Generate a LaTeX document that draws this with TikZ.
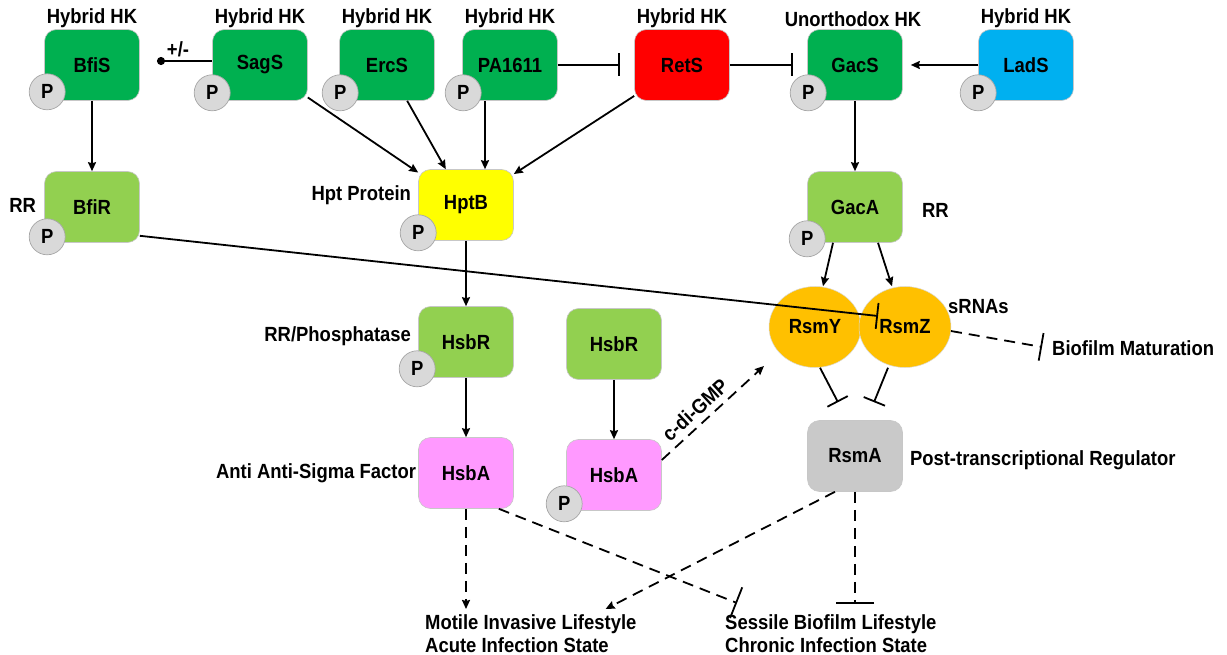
\documentclass[tikz,border=0pt]{standalone}
\usepackage{fontspec}
\setmainfont{Liberation Sans}[FakeStretch=0.9]
\usetikzlibrary{arrows.meta,calc,shapes.geometric}
\definecolor{hkgreen}{HTML}{00B050}
\definecolor{rrgreen}{HTML}{92D050}
\definecolor{hkred}{HTML}{FF0000}
\definecolor{hkblue}{HTML}{00B0F0}
\definecolor{hptyellow}{HTML}{FFFF00}
\definecolor{hsbpink}{HTML}{FF99FF}
\definecolor{rsmgray}{HTML}{C9C9C9}
\definecolor{srnaorange}{HTML}{FFC000}
\definecolor{pgray}{HTML}{D9D9D9}

\begin{document}
\begin{tikzpicture}[x=1pt,y=-1pt,
  every node/.style={font=\fontsize{20.5}{23}\selectfont\bfseries, inner sep=0pt},
  protein/.style={rectangle, rounded corners=12pt, minimum width=95pt, minimum height=71pt, draw=black!22, line width=0.6pt},
  srna/.style={ellipse, minimum width=92pt, minimum height=81pt, fill=srnaorange, draw=black!15, line width=0.5pt},
  phos/.style={circle, minimum size=36pt, fill=pgray, draw=black!35, line width=0.7pt},
  conn/.style={line width=1.8pt},
  arr/.style={conn, -{Stealth[length=9pt,width=8pt,inset=1pt]}},
  inh/.style={conn, -{Bar[width=#1]}},
  inh/.default=23pt,
  dsh/.style={dash pattern=on 11pt off 7pt},
]
\useasboundingbox (0,0) rectangle (1227,655);

% sensor kinases
\node[protein, fill=hkgreen] (BfiS)   at (92,65)   {BfiS};
\node[protein, fill=hkgreen] (SagS)   at (260,65)  {SagS};
\node[protein, fill=hkgreen] (ErcS)   at (387,65)  {ErcS};
\node[protein, fill=hkgreen] (PA1611) at (510,65)  {PA1611};
\node[protein, fill=hkred]   (RetS)   at (682,65)  {RetS};
\node[protein, fill=hkgreen] (GacS)   at (855,65)  {GacS};
\node[protein, fill=hkblue]  (LadS)   at (1026,65) {LadS};

\node (tBfiS)   at (92,18)   {Hybrid HK};
\node (tSagS)   at (260,18)  {Hybrid HK};
\node (tErcS)   at (387,18)  {Hybrid HK};
\node (tPA1611) at (510,18)  {Hybrid HK};
\node (tRetS)   at (682,18)  {Hybrid HK};
\node (tGacS)   at (853,19)  {Unorthodox HK};
\node (tLadS)   at (1026,18) {Hybrid HK};

% relay and regulators
\node[protein, fill=rrgreen]   (BfiR)  at (92,207)  {BfiR};
\node[protein, fill=hptyellow] (HptB)  at (466,205) {HptB};
\node[protein, fill=rrgreen]   (GacA)  at (855,207) {GacA};
\node[protein, fill=rrgreen]   (HsbRa) at (466,342) {HsbR};
\node[protein, fill=rrgreen]   (HsbRb) at (614,344) {HsbR};
\node[protein, fill=hsbpink]   (HsbAa) at (466,473) {HsbA};
\node[protein, fill=hsbpink]   (HsbAb) at (614,475) {HsbA};
\node[protein, fill=rsmgray]   (RsmA)  at (855,456) {RsmA};
\node[srna] (RsmY) at (815,327) {RsmY};
\node[srna] (RsmZ) at (905,327) {RsmZ};

% phosphorylation marks
\foreach \n/\dx/\dy in {BfiS/3/-9, SagS/0/-8, ErcS/1/-8, PA1611/1/-8, GacS/1/-8, LadS/0/-8,
                        BfiR/3/-6, HptB/0/-8, HsbRa/-1/-9, HsbAb/-2/-7, GacA/0/-4}
  \node[phos] (p\n) at ($(\n.south west)+(\dx,\dy)$) {P};

% side labels
\node[anchor=east] (lBfiR)  at ([xshift=-8pt,yshift=2pt]BfiR.west)  {RR};
\node[anchor=east] (lHptB)  at ([xshift=-7pt,yshift=10pt]HptB.west) {Hpt Protein};
\node[anchor=east] (lHsbR)  at ([xshift=-7pt,yshift=6pt]HsbRa.west) {RR/Phosphatase};
\node[anchor=east] (lHsbA)  at ([xshift=-2pt]HsbAa.west)           {Anti Anti-Sigma Factor};
\node[anchor=west] (lGacA)  at ([xshift=19pt,yshift=-3pt]GacA.east) {RR};
\node[anchor=west] (lsRNA)  at (948,307)  {sRNAs};
\node[anchor=west] (lRsmA)  at ([xshift=7pt,yshift=-4pt]RsmA.east) {Post-transcriptional Regulator};
\node[anchor=west] (biomat) at (1052,348) {Biofilm Maturation};
\node[anchor=north west, align=left] (motile)  at (425,614) {Motile Invasive Lifestyle\\Acute Infection State};
\node[anchor=north west, align=left] (sessile) at (725,614) {Sessile Biofilm Lifestyle\\Chronic Infection State};

% top row interactions
\coordinate (sagdot) at (157,61);
\draw[conn, {Circle[length=8pt]}-] (sagdot) -- (sagdot -| SagS.west);
\node (pm) at (178,49) {+/-};
\draw[inh, shorten >=14pt] (PA1611.east) -- (RetS.west);
\draw[inh, shorten >=14pt] (RetS.east) -- (GacS.west);
\draw[arr, shorten >=8pt] (LadS.west) -- (GacS.east);

% phosphorelay
\draw[arr] (BfiS) -- (BfiR);
\draw[arr] (SagS) -- (HptB);
\draw[arr] (ErcS) -- (HptB);
\draw[arr] ([xshift=-25pt]PA1611.south) -- ([xshift=-25pt]PA1611.south |- HptB.north);
\draw[arr] (RetS) -- (HptB);
\draw[arr] (GacS) -- (GacA);
\draw[arr] (HptB) -- (HsbRa);
\draw[arr] (HsbRa) -- (HsbAa);
\draw[arr] (HsbRb) -- (HsbAb);
\draw[arr] ([xshift=-22pt]GacA.south) -- ([xshift=8pt]RsmY.north);
\draw[arr] ([xshift=23pt]GacA.south) -- ([xshift=-13pt]RsmZ.north);

% small RNA control
\draw[inh=26pt] ([yshift=7pt]BfiR.south east) -- ([xshift=-27pt,yshift=11pt]RsmZ.center);
\draw[inh] ([xshift=5pt]RsmY.south) -- ([xshift=-17pt,yshift=18pt]RsmA.north);
\draw[inh] ([xshift=-17pt]RsmZ.south) -- ([xshift=19pt,yshift=18pt]RsmA.north);
\draw[inh=28pt, dsh] (RsmZ.-5) -- ([xshift=-10pt,yshift=1pt]biomat.west);
\draw[arr, dsh] ([yshift=15pt]HsbAb.east) -- node[pos=0.42, above=6pt, sloped] (cdg) {c-di-GMP} ([xshift=-51pt,yshift=-39pt]RsmY.center);

% lifestyle outputs
\draw[arr, dsh] (HsbAa.south) -- ([yshift=5pt]HsbAa.south |- motile.north);
\draw[inh=33pt, dsh] ([xshift=-15pt]HsbAa.south east) -- ([xshift=12pt,yshift=11pt]sessile.north west);
\draw[arr, dsh] ([xshift=-20pt]RsmA.south) -- ([xshift=-31pt,yshift=5pt]motile.north east);
\draw[inh=38pt, dsh] (RsmA.south) -- ([yshift=10pt]RsmA.south |- sessile.north);
\end{tikzpicture}
\end{document}
